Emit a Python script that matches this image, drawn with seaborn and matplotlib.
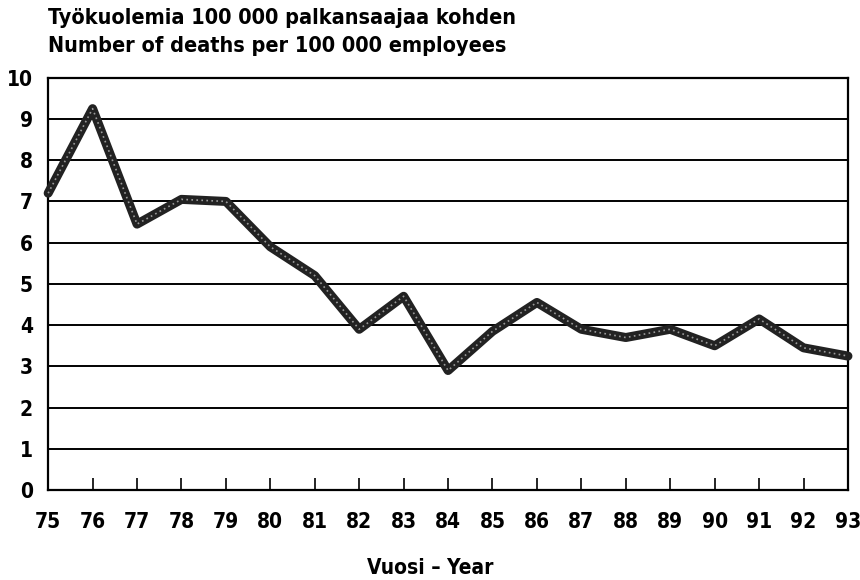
import pandas as pd
import matplotlib
matplotlib.use("Agg")
import matplotlib.pyplot as plt
import seaborn as sns

# Data
years = list(range(75, 94))
deaths = [7.2, 9.25, 6.45, 7.05, 7.0, 5.9, 5.2, 3.9, 4.7, 2.9,
          3.85, 4.55, 3.9, 3.7, 3.9, 3.5, 4.15, 3.45, 3.25]
y_ticks = list(range(0, 11))

title_fi = "Työkuolemia 100 000 palkansaajaa kohden"
title_en = "Number of deaths per 100 000 employees"
x_label = "Vuosi – Year"

sns.set_theme(style="white")
plt.rcParams["font.family"] = ["DejaVu Sans"]
plt.rcParams["font.stretch"] = "condensed"
plt.rcParams["font.weight"] = "bold"
plt.rcParams["text.color"] = "black"
plt.rcParams["xtick.color"] = "black"
plt.rcParams["ytick.color"] = "black"
plt.rcParams["axes.labelcolor"] = "black"

df = pd.DataFrame({"year": years, "deaths": deaths})

fig = plt.figure(figsize=(8.6, 5.8), dpi=100)
ax = fig.add_axes([0.056, 0.155, 0.93, 0.711])

# horizontal gridlines
for v in y_ticks:
    ax.axhline(v, color="black", lw=1.4, zorder=1)

# thick textured line
sns.lineplot(data=df, x="year", y="deaths", ax=ax, color="#222222",
             lw=6.5, solid_joinstyle="round", solid_capstyle="round",
             zorder=3, clip_on=False)
sns.lineplot(data=df, x="year", y="deaths", ax=ax, color="#9a9a9a",
             lw=1.2, linestyle=(0, (1, 2)), zorder=4, clip_on=False)

ax.set_xlim(75, 93)
ax.set_ylim(0, 10)
ax.set_xticks(years)
ax.set_xticklabels([str(y) for y in years])
ax.set_yticks(y_ticks)
ax.set_yticklabels([str(v) for v in y_ticks])

ax.tick_params(axis="x", direction="in", length=9, width=1.2, color="black",
               pad=16, labelsize=15, bottom=True)
ax.tick_params(axis="y", length=0, pad=11, labelsize=15, left=False)

for side in ["left", "right", "bottom", "top"]:
    ax.spines[side].set_visible(True)
    ax.spines[side].set_color("black")
    ax.spines[side].set_linewidth(1.6)

ax.set_xlabel(x_label, fontsize=15, fontweight="bold")
ax.xaxis.set_label_coords(0.4775, -0.165)
ax.set_ylabel("")

fig.text(48 / 860, 1 - 18 / 580, title_fi, fontsize=15.5, fontweight="bold",
         ha="left", va="center")
fig.text(48 / 860, 1 - 46 / 580, title_en, fontsize=15.5, fontweight="bold",
         ha="left", va="center")

fig.savefig("out.png", dpi=100)
